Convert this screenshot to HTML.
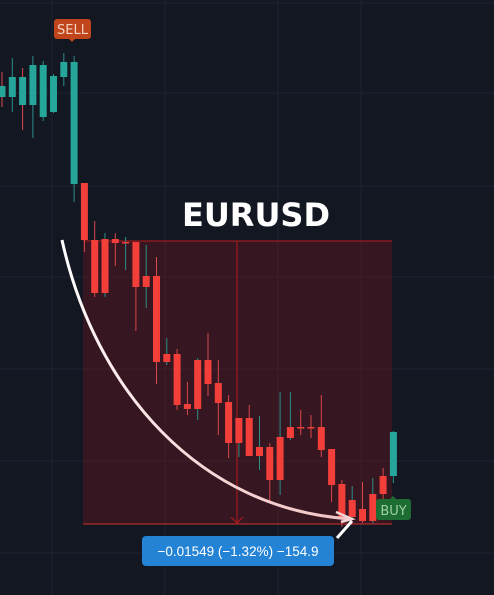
<!DOCTYPE html>
<html><head><meta charset="utf-8">
<style>
html,body{margin:0;padding:0;background:#131722;}
#wrap{position:relative;width:494px;height:595px;overflow:hidden;background:#131722;font-family:"Liberation Sans",sans-serif;}
svg{position:absolute;left:0;top:0;}
</style></head>
<body>
<div id="wrap">
<svg id="chart" width="494" height="595"></svg>
</div>
<script>
const opens  =[1.17515,1.17515,1.17475,1.17475,1.17415,1.1744,1.17615,1.1708,1.17085,1.168,1.16805,1.16805,1.1679,1.1679,1.1662,1.1662,1.1623,1.1623,1.1598,1.162,1.162,1.16085,1.1599,1.1591,1.1591,1.15765,1.15765,1.15815,1.15865,1.15865,1.15865,1.15865,1.15755,1.1558,1.155,1.15455,1.1553,1.1562,1.1562];
const highs  =[1.1764,1.1771,1.1766,1.1772,1.17695,1.1763,1.17735,1.1772,1.17085,1.16895,1.16835,1.16835,1.16815,1.1679,1.16775,1.16715,1.1631,1.16255,1.1609,1.1621,1.16335,1.162,1.16025,1.1591,1.15975,1.1592,1.15785,1.1604,1.1604,1.1595,1.15925,1.16025,1.15755,1.156,1.1557,1.1559,1.1561,1.1566,1.15845];
const lows   =[1.17465,1.1744,1.1735,1.1731,1.17395,1.17435,1.1757,1.1699,1.1674,1.16515,1.16515,1.1667,1.1665,1.16345,1.1646,1.1608,1.16175,1.1595,1.15925,1.159,1.1602,1.15825,1.1571,1.15715,1.1572,1.1565,1.15485,1.15525,1.158,1.15825,1.1581,1.15715,1.1549,1.15365,1.154,1.15385,1.15385,1.1549,1.15585];
const closes =[1.1757,1.17615,1.17615,1.17675,1.17675,1.1762,1.1769,1.1769,1.168,1.16535,1.16535,1.16785,1.16785,1.16565,1.16565,1.1619,1.1619,1.15975,1.15955,1.15955,1.1608,1.15985,1.15785,1.15785,1.1572,1.1572,1.156,1.156,1.1581,1.1586,1.1586,1.1575,1.15575,1.15415,1.15415,1.15395,1.15395,1.1553,1.1584];
const bullWick=[0,1,0,1,1,1,1,1,0,0,1,0,1,0,1,0,1,0,0,1,0,0,0,1,0,1,0,1,1,0,0,0,0,0,1,0,1,0,1];

const NS='http://www.w3.org/2000/svg';
const svg=document.getElementById('chart');
const y=p=>(1.18-p)*20000;
const x=i=>2+i*10.3;
function mk(tag,attrs,parent){const e=document.createElementNS(NS,tag);for(const k in attrs)e.setAttribute(k,attrs[k]);(parent||svg).appendChild(e);return e;}

const grid=mk('g',{});


[3,93,186,277,369,461,553].forEach(v=>mk('line',{x1:0,x2:494,y1:v,y2:v,stroke:'#1f2330','stroke-width':1},grid));
[52,165,278,361].forEach(v=>mk('line',{x1:v,x2:v,y1:0,y2:595,stroke:'#1f2330','stroke-width':1},grid));

const box=mk('g',{});


mk('rect',{x:83,y:241,width:309,height:283,fill:'rgba(120,20,30,0.35)'},box);
mk('line',{x1:83,x2:392,y1:241,y2:241,stroke:'#b71c1c','stroke-width':1},box);
mk('line',{x1:83,x2:392,y1:524,y2:524,stroke:'#d32f2f','stroke-width':1},box);
mk('line',{x1:237,x2:237,y1:241,y2:523,stroke:'#b71c1c','stroke-width':1},box);
mk('path',{d:'M231 517 L237 523 L243 517',stroke:'#b71c1c','stroke-width':1,fill:'none'},box);

const cg=mk('g',{});


for(let i=0;i<opens.length;i++){
  const bull=closes[i]>=opens[i];
  const col=bull?'#26a69a':'#f23f3a';
  const g=mk('g',{},cg);
  
  
  const cx=x(i);
  mk('line',{x1:cx,x2:cx,y1:y(highs[i]),y2:y(lows[i]),stroke:bullWick[i]?'#2a8f88':'#d9484a','stroke-width':1},g);
  const t=y(Math.max(opens[i],closes[i])),b=y(Math.min(opens[i],closes[i]));
  mk('rect',{x:cx-3.5,y:t,width:7,height:Math.max(1.5,b-t),fill:col},g);
}

const defs=mk('defs',{});
const lg=mk('linearGradient',{id:'cg',x1:'0',y1:'0',x2:'1',y2:'1'},defs);
mk('stop',{offset:'0','stop-color':'#ffffff'},lg);
mk('stop',{offset:'1','stop-color':'#f2c4c4'},lg);
const curve=mk('path',{d:'M62 240 C95 390 200 510 352 519',stroke:'url(#cg)','stroke-width':3,fill:'none'});


const ah=mk('path',{d:'M336 512 L352 519 L341 522',stroke:'#f2d4d4','stroke-width':2.5,fill:'none'});


const conn=mk('line',{x1:337,y1:538,x2:352,y2:521,stroke:'#ffffff','stroke-width':3});



const title=mk('text',{x:256,y:226,'text-anchor':'middle',fill:'#ffffff','font-size':32,'font-weight':'bold','font-family':'"DejaVu Sans","Liberation Sans",sans-serif'});
title.textContent='EURUSD';



const sell=mk('g',{});


mk('rect',{x:54,y:19,width:37,height:20,rx:3,fill:'#c0451b'},sell);
mk('path',{d:'M69 39 L72 42 L75 39Z',fill:'#c0451b'},sell);
const st=mk('text',{x:72.5,y:34,'text-anchor':'middle',fill:'#f3d2c2','font-size':13,'font-family':'"DejaVu Sans","Liberation Sans",sans-serif'},sell);
st.textContent='SELL';

const buy=mk('g',{});


mk('rect',{x:376,y:499,width:35,height:21,rx:3,fill:'#1d6d32'},buy);
mk('path',{d:'M390 499 L393 496 L396 499Z',fill:'#1d6d32'},buy);
const bt=mk('text',{x:393.5,y:515,'text-anchor':'middle',fill:'#9fcfa6','font-size':13,'font-family':'"DejaVu Sans","Liberation Sans",sans-serif'},buy);
bt.textContent='BUY';

const ml=mk('g',{});


mk('rect',{x:142,y:536,width:192,height:30,rx:4,fill:'#2583d6'},ml);
const mt=mk('text',{x:238,y:556,'text-anchor':'middle',fill:'#ffffff','font-size':13.5,'font-family':'"Liberation Sans",sans-serif'},ml);
mt.textContent='\u22120.01549 (\u22121.32%) \u2212154.9';
</script>
</body></html>
